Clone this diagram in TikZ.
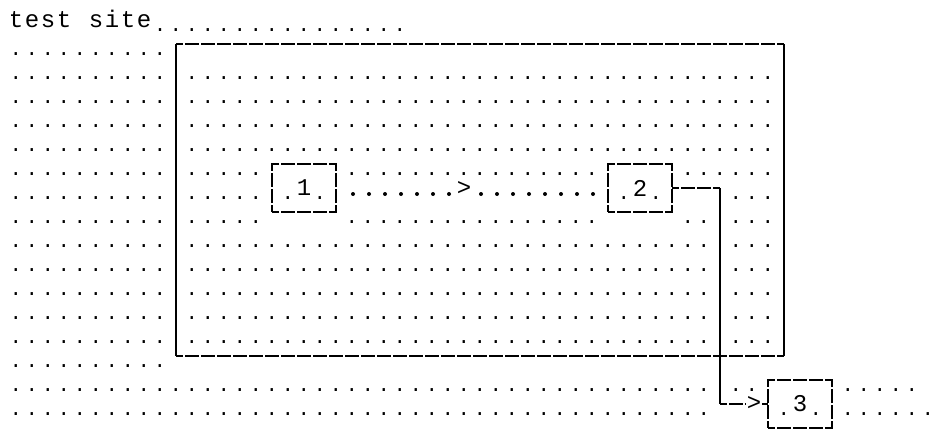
\documentclass[tikz,border=0pt]{standalone}
\usepackage{fontspec}
\newfontfamily\mono{Liberation Mono}
\newlength\cw
\setlength\cw{16pt}
\newcommand\dotfnt{\mono\fontsize{20}{24}\selectfont}
\newcommand\labfnt{\mono\fontsize{24}{28}\selectfont}
\newcommand\dotrun[1]{\foreach \i in {1,...,#1}{\makebox[\cw]{.}}}
\newcommand\cellgap[1]{\hspace*{#1\cw}}
\makeatletter
\def\spchars#1{\spchars@#1\relax}
\def\spchars@#1{\ifx\relax#1\else\makebox[\cw]{#1}\expandafter\spchars@\fi}
\makeatother
\begin{document}
\begin{tikzpicture}[x=1pt,y=-1pt,
  every node/.style={inner sep=0pt,outer sep=0pt},
  rowtxt/.style={anchor=base west,font=\dotfnt},
  hline/.style={line width=1.4pt,dash pattern=on 14pt off 2pt,dash phase=7pt},
  vline/.style={line width=1.4pt},
  nodebox/.style={draw,hline,minimum width=64pt,minimum height=48pt,font=\labfnt},
  gtmark/.style={font=\labfnt,minimum width=16pt},
  bigdots/.style={line width=4pt,line cap=round,dash pattern=on 0pt off 16pt}]
\useasboundingbox (0,0) rectangle (940,436);
% title and dot rows
\node[anchor=base west,font=\labfnt] (title) at (8,27.5) {\spchars{test~site}};
\node[rowtxt] (r0) at (152,31.3) {\dotrun{16}};
\node[rowtxt] (r1) at (8,55.3) {\dotrun{10}};
\foreach \r in {2,...,5}{
  \node[rowtxt] (r\r) at (8,31.3+24*\r) {\dotrun{10}\cellgap{1}\dotrun{37}};
}
\node[rowtxt] (r6) at (8,175.3) {\dotrun{10}\cellgap{1}\dotrun{5}\cellgap{5}\dotrun{16}\cellgap{5}\dotrun{6}};
\node[rowtxt] (r7) at (8,199.3) {\dotrun{10}\cellgap{1}\dotrun{5}\cellgap{1}\dotrun{1}\cellgap{1}\dotrun{1}\cellgap{1}\cellgap{16}\cellgap{1}\dotrun{1}\cellgap{1}\dotrun{1}\cellgap{1}\cellgap{3}\dotrun{3}};
\node[rowtxt] (r8) at (8,223.3) {\dotrun{10}\cellgap{1}\dotrun{5}\cellgap{5}\dotrun{16}\cellgap{5}\dotrun{2}\cellgap{1}\dotrun{3}};
\foreach \r in {9,...,13}{
  \node[rowtxt] (r\r) at (8,31.3+24*\r) {\dotrun{10}\cellgap{1}\dotrun{33}\cellgap{1}\dotrun{3}};
}
\node[rowtxt] (r14) at (8,367.3) {\dotrun{10}};
\node[rowtxt] (r15) at (8,391.3) {\dotrun{44}\cellgap{1}\dotrun{2}\cellgap{5}\dotrun{5}};
\node[rowtxt] (r16) at (8,415.3) {\dotrun{44}\cellgap{4}\dotrun{1}\cellgap{1}\dotrun{1}\cellgap{1}\dotrun{6}};
% outer test site box
\node[minimum width=608pt,minimum height=312pt] (site) at (480,200) {};
\draw[hline] (site.north west) -- (site.north east);
\draw[hline] (site.south west) -- (site.south east);
\draw[vline] (site.north west) -- (site.south west);
\draw[vline] (site.north east) -- (site.south east);
% boxes
\node[nodebox] (b1) at (304,188) {1};
\node[nodebox] (b2) at (640,188) {2};
\node[nodebox] (b3) at (800,404) {3};
% arrow marks
\node[gtmark] (gt1) at (464,189) {>};
\node[gtmark] (gt2) at (754,404) {>};
% connector 1 -> 2
\draw[bigdots] ([xshift=17pt,yshift=-6pt]b1.east) -- ([xshift=-2pt,yshift=-5pt]gt1.west);
\draw[bigdots] ([xshift=9pt,yshift=-5pt]gt1.east) -- ([xshift=-6pt,yshift=-6pt]b2.west);
% connector 2 -> 3
\coordinate (k1) at (720,188);
\coordinate (k2) at (720,404);
\draw[hline] (b2.east) -- (k1);
\draw[vline] (k1) -- (k2);
\draw[hline] (k2) -- (gt2.west);
\draw[vline] (gt2.east) -- (b3.west);
\end{tikzpicture}
\end{document}
